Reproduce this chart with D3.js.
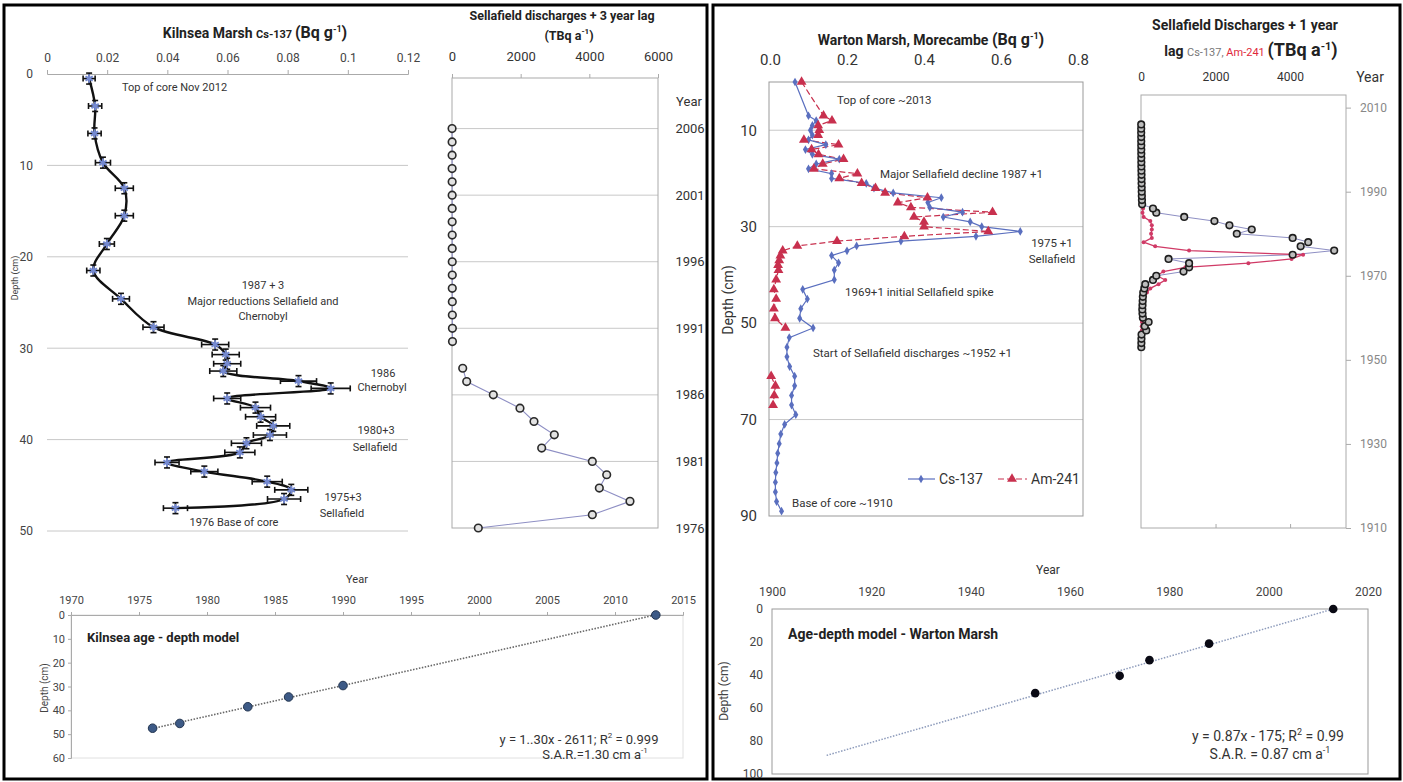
<!DOCTYPE html>
<html lang="en">
<head>
<meta charset="UTF-8">
<title>Cs-137 profiles and age-depth models</title>
<script src="https://cdn.jsdelivr.net/npm/d3@7"></script>
<style>
    body { margin: 0; background: #fff; }
    svg { font-family: Roboto, "Liberation Sans", sans-serif; }
    .grid { stroke: #c8c8c8; stroke-width: 1; }
    .ann { font-size: 11px; fill: #333; }
</style>
</head>
<body>
<div id="chart"></div>
<script>
// ---- Kilnsea Marsh Cs-137 profile (Bq g-1)
const kilnseaDepth = [0.5, 3.5, 6.5, 9.7, 12.5, 15.5, 18.6, 21.5, 24.6, 27.7, 29.6, 30.7, 31.7, 32.5, 33.6, 34.4, 35.5, 36.5, 37.5, 38.5, 39.5, 40.4, 41.4, 42.5, 43.5, 44.6, 45.5, 46.5, 47.5];
const kilnseaCs = [0.014, 0.016, 0.0158, 0.0186, 0.0257, 0.0257, 0.0199, 0.0154, 0.0246, 0.0354, 0.0559, 0.0594, 0.0599, 0.0586, 0.0836, 0.0943, 0.0599, 0.0693, 0.071, 0.0752, 0.0741, 0.0663, 0.0641, 0.0399, 0.0523, 0.0732, 0.0812, 0.0788, 0.0427];
const kilnseaErr = [0.002, 0.0022, 0.0022, 0.0025, 0.003, 0.003, 0.0025, 0.0022, 0.0028, 0.0035, 0.0045, 0.0045, 0.0045, 0.0045, 0.006, 0.0065, 0.0045, 0.005, 0.005, 0.0055, 0.0055, 0.005, 0.005, 0.004, 0.0045, 0.005, 0.0055, 0.0055, 0.004];
const kilnseaDepthErr = 0.6;
const kilnseaValueTicks = [0, 0.02, 0.04, 0.06, 0.08, 0.1, 0.12];
const kilnseaDepthTicks = [0, 10, 20, 30, 40, 50];

// ---- Sellafield discharges + 3 year lag (TBq a-1)
const lag3Years = [1976, 1977, 1978, 1979, 1980, 1981, 1982, 1983, 1984, 1985, 1986, 1987, 1988, 1989, 1990, 1991, 1992, 1993, 1994, 1995, 1996, 1997, 1998, 1999, 2000, 2001, 2002, 2003, 2004, 2005, 2006];
const lag3Cs = [766, 4087, 5184, 4291, 4506, 4087, 2612, 2980, 2388, 1980, 1203, 428, 312, null, 14, 12, 10, 9, 8, 8, 7, 6, 6, 5, 5, 4, 4, 3, 3, 3, 2];
const lag3ValueTicks = [0, 2000, 4000, 6000];
const lag3YearTicks = [1976, 1981, 1986, 1991, 1996, 2001, 2006];

// ---- Warton Marsh profile (Bq g-1)
const wartonCsDepth = [0, 7, 8, 9, 10, 11, 12, 13, 14, 15, 16, 17, 18, 19, 20, 21, 22, 23, 24, 25, 26, 27, 28, 29, 30, 31, 32, 33, 34, 35, 36, 37.5, 39, 41, 43, 45, 47, 49, 51, 53, 55, 57, 59, 61, 63, 65, 67, 69, 71, 73, 75, 77, 79, 81, 83, 85, 87, 89];
const wartonCs = [0.065, 0.10, 0.12, 0.11, 0.105, 0.11, 0.10, 0.145, 0.092, 0.11, 0.18, 0.12, 0.10, 0.16, 0.16, 0.25, 0.27, 0.32, 0.445, 0.41, 0.415, 0.50, 0.45, 0.52, 0.55, 0.65, 0.535, 0.34, 0.225, 0.20, 0.16, 0.178, 0.167, 0.167, 0.085, 0.097, 0.08, 0.077, 0.112, 0.05, 0.044, 0.044, 0.051, 0.064, 0.064, 0.056, 0.056, 0.067, 0.038, 0.028, 0.024, 0.02, 0.018, 0.015, 0.014, 0.014, 0.017, 0.03];
const wartonAmDepth = [0, 7, 8, 9, 10, 11, 12, 13, 14, 15, 16, 17, 18, 19, 20, 21, 22, 23, 24, 25, 26, 27, 28, 29, 30, 31, 32, 33, 34, 35, 36, 37, 38, 39, 41, 43, 45, 47, 49, 51, 56, 61, 63, 65, 67];
const wartonAm = [0.082, 0.139, 0.161, 0.125, 0.128, 0.125, 0.088, 0.178, 0.108, 0.126, 0.191, 0.137, 0.114, 0.227, 0.18, 0.238, 0.274, 0.299, 0.409, 0.332, 0.366, 0.578, 0.374, 0.40, 0.40, 0.567, 0.349, 0.174, 0.071, 0.033, 0.027, 0.024, 0.021, 0.022, 0.016, 0.01, 0.016, 0.01, 0.013, 0.04, null, 0.003, 0.014, 0.011, 0.008];
const wartonValueTicks = [0, 0.2, 0.4, 0.6, 0.8];
const wartonDepthTicks = [10, 30, 50, 70, 90];

// ---- Sellafield discharges + 1 year lag (TBq a-1)
const lag1Years = [1953, 1954, 1955, 1956, 1957, 1958, 1959, 1960, 1961, 1962, 1963, 1964, 1965, 1966, 1967, 1968, 1969, 1970, 1971, 1972, 1973, 1974, 1975, 1976, 1977, 1978, 1979, 1980, 1981, 1982, 1983, 1984, 1985, 1986, 1987, 1988, 1989, 1990, 1991, 1992, 1993, 1994, 1995, 1996, 1997, 1998, 1999, 2000, 2001, 2002, 2003, 2004, 2005, 2006];
const lag1Cs = [8, 10, 12, 15, 142, 100, 204, 50, 40, 35, 40, 45, 50, 60, 90, 115, 321, 410, 1141, 1290, 1290, 739, 4069, 5183, 4283, 4487, 4069, 2570, 2971, 2372, 1970, 1159, 410, 321, 30, 25, 22, 20, 18, 16, 15, 14, 12, 10, 9, 8, 8, 7, 7, 6, 6, 5, 5, 5];
const lag1Am = [10, 12, 15, 18, 20, 22, 25, 28, 30, 35, 45, 60, 90, 160, 250, 470, 650, 430, 600, 1190, 2880, 4040, 4350, 1290, 380, 70, 290, 270, 290, 290, 250, 70, 40, 55, 60, 65, 70, 60, 55, 60, 50, 45, 50, 40, 35, 30, 30, 25, 25, 20, null, null, null, null];
const lag1ValueTicks = [0, 2000, 4000];
const lag1YearTicks = [1910, 1930, 1950, 1970, 1990, 2010];

// ---- age-depth models
const kilnseaAgeYear = [1976, 1978, 1983, 1986, 1990, 2013];
const kilnseaAgeDepth = [47.5, 45.5, 38.5, 34.4, 29.6, 0];
const kilnseaYearTicks = [1970, 1975, 1980, 1985, 1990, 1995, 2000, 2005, 2010, 2015];
const kilnseaAgeDepthTicks = [0, 10, 20, 30, 40, 50, 60];
const wartonAgeYear = [1953, 1970, 1976, 1988, 2013];
const wartonAgeDepth = [51, 40.5, 31, 21, 0];
const wartonTrendFrom = 1911;
const wartonYearTicks = [1900, 1920, 1940, 1960, 1980, 2000, 2020];
const wartonAgeDepthTicks = [0, 20, 40, 60, 80, 100];

const svg = d3.select("#chart").append("svg")
    .attr("width", 1403)
    .attr("height", 782);

// outer frames
svg.append("rect").attr("x", 4).attr("y", 5).attr("width", 703).attr("height", 774)
    .attr("fill", "none").attr("stroke", "#000").attr("stroke-width", 3);
svg.append("rect").attr("x", 713).attr("y", 5).attr("width", 687).attr("height", 774)
    .attr("fill", "none").attr("stroke", "#000").attr("stroke-width", 3);

function styleAxis(g, size, color, keepDomain) {
    g.attr("font-family", null).attr("font-size", size);
    g.selectAll("text").attr("fill", color);
    g.selectAll("line").attr("stroke", "#aaa");
    if (keepDomain) g.select(".domain").attr("stroke", "#aaa");
    else g.select(".domain").remove();
}

// text with mixed sizes and superscripts, y is baseline
function rich(x, y, parts, anchor) {
    const t = svg.append("text").attr("x", x).attr("y", y).attr("text-anchor", anchor || "middle");
    let shift = 0;
    parts.forEach(p => {
        const ts = t.append("tspan").text(p.t)
            .attr("font-size", p.size)
            .attr("font-weight", p.bold ? "bold" : "normal")
            .attr("fill", p.fill || "#222");
        const want = p.sup ? -6 : 0;
        if (want !== shift) { ts.attr("dy", want - shift); shift = want; }
    });
    return t;
}

function note(x, y, s, anchor, size) {
    svg.append("text").attr("class", "ann").attr("x", x).attr("y", y).attr("dy", "0.35em")
        .attr("text-anchor", anchor || "middle")
        .style("font-size", (size || 11) + "px")
        .text(s);
}

function rotLabel(x, y, s, size) {
    svg.append("text").attr("transform", "translate(" + x + "," + y + ") rotate(-90)")
        .attr("text-anchor", "middle").attr("dy", "0.35em")
        .attr("font-size", size).attr("fill", "#444").text(s);
}

// ================= Kilnsea Cs-137 profile =================
const kx = d3.scaleLinear().domain([0, 0.12]).range([47, 408]);
const ky = d3.scaleLinear().domain([0, 50]).range([74, 531]);

svg.append("g").selectAll("line").data(kilnseaDepthTicks.slice(1)).join("line")
    .attr("class", "grid")
    .attr("x1", kx(0)).attr("x2", kx(0.12))
    .attr("y1", d => ky(d)).attr("y2", d => ky(d));

svg.append("g").attr("transform", "translate(0," + ky(0) + ")")
    .call(d3.axisTop(kx).tickValues(kilnseaValueTicks).tickSize(4).tickPadding(8).tickFormat(d3.format("~g")))
    .call(g => styleAxis(g, 12, "#444", true));
svg.append("g").attr("transform", "translate(" + kx(0) + ",0)")
    .call(d3.axisLeft(ky).tickValues(kilnseaDepthTicks).tickSize(0).tickPadding(14))
    .call(g => styleAxis(g, 12, "#444", false));

rotLabel(15, 278, "Depth (cm)", 9);
rich(255, 38, [
    { t: "Kilnsea Marsh ", size: 14, bold: true },
    { t: "Cs-137 ", size: 11, bold: true },
    { t: "(Bq g", size: 16, bold: true },
    { t: "-1", size: 9, bold: true, sup: true },
    { t: ")", size: 16, bold: true }
]);

const kPts = d3.zip(kilnseaDepth, kilnseaCs, kilnseaErr);
svg.append("path").datum(kPts)
    .attr("fill", "none").attr("stroke", "#111").attr("stroke-width", 2.4)
    .attr("d", d3.line().x(d => kx(d[1])).y(d => ky(d[0])).curve(d3.curveCatmullRom.alpha(0.5)));

const eb = svg.append("g").attr("stroke", "#111").attr("stroke-width", 1.6);
kPts.forEach(d => {
    const x0 = kx(d[1] - d[2]), x1 = kx(d[1] + d[2]), y = ky(d[0]);
    const y0 = ky(d[0] - kilnseaDepthErr), y1 = ky(d[0] + kilnseaDepthErr), x = kx(d[1]);
    eb.append("line").attr("x1", x0).attr("x2", x1).attr("y1", y).attr("y2", y);
    eb.append("line").attr("x1", x0).attr("x2", x0).attr("y1", y - 3).attr("y2", y + 3);
    eb.append("line").attr("x1", x1).attr("x2", x1).attr("y1", y - 3).attr("y2", y + 3);
    eb.append("line").attr("x1", x).attr("x2", x).attr("y1", y0).attr("y2", y1);
    eb.append("line").attr("x1", x - 3).attr("x2", x + 3).attr("y1", y0).attr("y2", y0);
    eb.append("line").attr("x1", x - 3).attr("x2", x + 3).attr("y1", y1).attr("y2", y1);
});
svg.append("g").selectAll("path").data(kPts).join("path")
    .attr("transform", d => "translate(" + kx(d[1]) + "," + ky(d[0]) + ")")
    .attr("d", d3.symbol(d3.symbolAsterisk, 50))
    .attr("fill", "none").attr("stroke", "#7489d0").attr("stroke-width", 2);

note(122, 87, "Top of core Nov 2012", "start");
note(263, 285, "1987 + 3");
note(263, 301, "Major reductions  Sellafield and");
note(263, 316, "Chernobyl");
note(383, 373, "1986");
note(382, 387, "Chernobyl");
note(376, 430, "1980+3");
note(375, 447, "Sellafield");
note(343, 497, "1975+3");
note(342, 513, "Sellafield");
note(234, 522, "1976 Base of core");

// ================= Sellafield + 3 year lag =================
const sx = d3.scaleLinear().domain([0, 6000]).range([452, 658]);
const sy = d3.scaleLinear().domain([1976, 2009.8]).range([528, 78]);

svg.append("g").selectAll("line").data(lag3YearTicks.slice(1)).join("line")
    .attr("class", "grid")
    .attr("x1", sx(0)).attr("x2", sx(6000))
    .attr("y1", d => sy(d)).attr("y2", d => sy(d));
svg.append("rect").attr("x", sx(0)).attr("y", sy.range()[1])
    .attr("width", sx(6000) - sx(0)).attr("height", sy.range()[0] - sy.range()[1])
    .attr("fill", "none").attr("stroke", "#aaa");
svg.append("g").attr("transform", "translate(0," + sy.range()[1] + ")")
    .call(d3.axisTop(sx).tickValues(lag3ValueTicks).tickSize(4).tickPadding(13).tickFormat(d3.format("d")))
    .call(g => styleAxis(g, 13, "#333", false));
svg.append("g").selectAll("text").data(lag3YearTicks).join("text")
    .attr("x", 690).attr("y", d => sy(d)).attr("dy", "0.35em")
    .attr("text-anchor", "middle").attr("font-size", 13).attr("fill", "#333")
    .text(d => d);
svg.append("text").attr("x", 689).attr("y", 101).attr("dy", "0.35em").attr("text-anchor", "middle")
    .attr("font-size", 13).attr("fill", "#333").text("Year");

rich(562, 20, [{ t: "Sellafield discharges + 3 year lag", size: 12.5, bold: true }]);
rich(569, 40, [
    { t: "(TBq a", size: 12.5, bold: true },
    { t: "-1", size: 8, bold: true, sup: true },
    { t: ")", size: 12.5, bold: true }
]);

const s3 = d3.zip(lag3Years, lag3Cs);
svg.append("path").datum(s3)
    .attr("fill", "none").attr("stroke", "#8e8fc4").attr("stroke-width", 1.1)
    .attr("d", d3.line().defined(d => d[1] !== null).x(d => sx(d[1])).y(d => sy(d[0])));
svg.append("g").selectAll("circle").data(s3.filter(d => d[1] !== null)).join("circle")
    .attr("cx", d => sx(d[1])).attr("cy", d => sy(d[0])).attr("r", 3.8)
    .attr("fill", "#e2e2e2").attr("stroke", "#2a2a2a").attr("stroke-width", 1.6);

// ================= Warton Marsh profile =================
const wx = d3.scaleLinear().domain([0, 0.8]).range([770, 1078]);
const wy = d3.scaleLinear().domain([0, 90]).range([82, 516]);

svg.append("g").selectAll("line").data(wartonDepthTicks.slice(0, -1)).join("line")
    .attr("class", "grid")
    .attr("x1", 769).attr("x2", 1083)
    .attr("y1", d => wy(d)).attr("y2", d => wy(d));
svg.append("rect").attr("x", 769).attr("y", wy(0)).attr("width", 1083 - 769).attr("height", wy(90) - wy(0))
    .attr("fill", "none").attr("stroke", "#999");
svg.append("g").attr("transform", "translate(0," + wy(0) + ")")
    .call(d3.axisTop(wx).tickValues(wartonValueTicks).tickSize(0).tickPadding(17).tickFormat(d3.format(".1f")))
    .call(g => styleAxis(g, 15, "#333", false));
svg.append("g").attr("transform", "translate(769,0)")
    .call(d3.axisLeft(wy).tickValues(wartonDepthTicks).tickSize(0).tickPadding(12))
    .call(g => styleAxis(g, 15, "#333", false));
svg.append("text").attr("transform", "translate(728,300) rotate(-90)")
    .attr("text-anchor", "middle").attr("dy", "0.35em")
    .attr("font-size", 14).attr("fill", "#333").text("Depth (cm)");

rich(931, 45, [
    { t: "Warton  Marsh, Morecambe ", size: 14, bold: true },
    { t: "(Bq g", size: 16, bold: true },
    { t: "-1", size: 9, bold: true, sup: true },
    { t: ")", size: 16, bold: true }
]);

const csColor = "#5a6fbf", amColor = "#c8304e";
const wCs = d3.zip(wartonCsDepth, wartonCs);
const wAm = d3.zip(wartonAmDepth, wartonAm);
svg.append("path").datum(wAm)
    .attr("fill", "none").attr("stroke", amColor).attr("stroke-width", 1.2).attr("stroke-dasharray", "6,3")
    .attr("d", d3.line().defined(d => d[1] !== null).x(d => wx(d[1])).y(d => wy(d[0])));
svg.append("path").datum(wCs)
    .attr("fill", "none").attr("stroke", csColor).attr("stroke-width", 1.2)
    .attr("d", d3.line().x(d => wx(d[1])).y(d => wy(d[0])));
svg.append("g").selectAll("path").data(wCs).join("path")
    .attr("transform", d => "translate(" + wx(d[1]) + "," + wy(d[0]) + ")")
    .attr("d", d3.symbol(d3.symbolDiamond, 22)).attr("fill", csColor);
svg.append("g").selectAll("path").data(wAm.filter(d => d[1] !== null)).join("path")
    .attr("transform", d => "translate(" + wx(d[1]) + "," + wy(d[0]) + ")")
    .attr("d", d3.symbol(d3.symbolTriangle, 42)).attr("fill", amColor);

// legend
const lg = svg.append("g").attr("transform", "translate(0,479)");
lg.append("line").attr("x1", 908).attr("x2", 935).attr("stroke", csColor).attr("stroke-width", 1.2);
lg.append("path").attr("transform", "translate(921,0)").attr("d", d3.symbol(d3.symbolDiamond, 22)).attr("fill", csColor);
lg.append("text").attr("x", 939).attr("dy", "0.35em").attr("font-size", 14).attr("fill", "#333").text("Cs-137");
lg.append("line").attr("x1", 998).attr("x2", 1027).attr("stroke", amColor).attr("stroke-width", 1.2).attr("stroke-dasharray", "6,3");
lg.append("path").attr("transform", "translate(1012,0)").attr("d", d3.symbol(d3.symbolTriangle, 42)).attr("fill", amColor);
lg.append("text").attr("x", 1031).attr("dy", "0.35em").attr("font-size", 14).attr("fill", "#333").text("Am-241");

note(837, 100, "Top of core ~2013", "start", 11.5);
note(880, 174, "Major Sellafield decline  1987 +1", "start", 11.5);
note(1052, 243, "1975 +1", "middle", 11.5);
note(1052, 259, "Sellafield", "middle", 11.5);
note(845, 292, "1969+1   initial Sellafield spike", "start", 11.5);
note(813, 353, "Start of Sellafield discharges ~1952 +1", "start", 11.5);
note(792, 503, "Base of core ~1910", "start", 11.5);

// ================= Sellafield + 1 year lag =================
const rx = d3.scaleLinear().domain([0, 5500]).range([1141, 1346]);
const ry = d3.scaleLinear().domain([1910, 2013]).range([528, 95]);

svg.append("rect").attr("x", rx(0)).attr("y", ry(2013)).attr("width", rx(5500) - rx(0)).attr("height", ry(1910) - ry(2013))
    .attr("fill", "none").attr("stroke", "#aaa");
svg.append("g").attr("transform", "translate(0," + ry(2013) + ")")
    .call(d3.axisTop(rx).tickValues(lag1ValueTicks).tickSize(0).tickPadding(14).tickFormat(d3.format("d")))
    .call(g => styleAxis(g, 12, "#333", false));
svg.append("g").attr("transform", "translate(0," + ry(1910) + ")")
    .call(d3.axisTop(rx).tickValues(lag1ValueTicks.slice(1)).tickSize(4).tickFormat(""))
    .call(g => styleAxis(g, 12, "#333", false));
svg.append("g").attr("transform", "translate(" + rx(5500) + ",0)")
    .call(d3.axisRight(ry).tickValues(lag1YearTicks).tickSize(5).tickPadding(9).tickFormat(d3.format("d")))
    .call(g => styleAxis(g, 12, "#888", false));
svg.append("text").attr("x", 1370).attr("y", 77).attr("dy", "0.35em").attr("text-anchor", "middle")
    .attr("font-size", 14).attr("fill", "#333").text("Year");

rich(1245, 30, [{ t: "Sellafield Discharges + 1 year", size: 14, bold: true }]);
rich(1251, 56, [
    { t: "lag ", size: 14, bold: true },
    { t: "Cs-137, ", size: 11, fill: "#777" },
    { t: "Am-241 ", size: 11, fill: "#e0283c" },
    { t: "(TBq a", size: 18, bold: true },
    { t: "-1", size: 11, bold: true, sup: true },
    { t: ")", size: 18, bold: true }
]);

const r1cs = d3.zip(lag1Years, lag1Cs);
const r1am = d3.zip(lag1Years, lag1Am);
svg.append("path").datum(r1cs)
    .attr("fill", "none").attr("stroke", "#8e8fc4").attr("stroke-width", 1)
    .attr("d", d3.line().x(d => rx(d[1])).y(d => ry(d[0])));
svg.append("path").datum(r1am)
    .attr("fill", "none").attr("stroke", "#d03a66").attr("stroke-width", 1.3)
    .attr("d", d3.line().defined(d => d[1] !== null).x(d => rx(d[1])).y(d => ry(d[0])));
svg.append("g").selectAll("circle").data(r1am.filter(d => d[1] !== null)).join("circle")
    .attr("cx", d => rx(d[1])).attr("cy", d => ry(d[0])).attr("r", 2)
    .attr("fill", "#d03a66");
svg.append("g").selectAll("circle").data(r1cs).join("circle")
    .attr("cx", d => rx(d[1])).attr("cy", d => ry(d[0])).attr("r", 3.3)
    .attr("fill", "#bdbdbd").attr("stroke", "#1e1e1e").attr("stroke-width", 1.6);

// ================= Kilnsea age-depth model =================
const ax1 = d3.scaleLinear().domain([1970, 2015]).range([71, 683]);
const ay1 = d3.scaleLinear().domain([0, 60]).range([615, 758]);

svg.append("rect").attr("x", ax1(1970)).attr("y", ay1(0)).attr("width", ax1(2015) - ax1(1970)).attr("height", ay1(60) - ay1(0))
    .attr("fill", "none").attr("stroke", "#e0e0e0");
svg.append("g").attr("transform", "translate(0," + ay1(0) + ")")
    .call(d3.axisTop(ax1).tickValues(kilnseaYearTicks).tickSize(3).tickPadding(8).tickFormat(d3.format("d")))
    .call(g => styleAxis(g, 11, "#444", true));
svg.append("g").attr("transform", "translate(" + ax1(1970) + ",0)")
    .call(d3.axisLeft(ay1).tickValues(kilnseaAgeDepthTicks).tickSize(3).tickPadding(3))
    .call(g => styleAxis(g, 11, "#444", true));
svg.append("text").attr("x", 357).attr("y", 579).attr("dy", "0.35em").attr("text-anchor", "middle")
    .attr("font-size", 11).attr("fill", "#333").text("Year");
rotLabel(44, 688, "Depth  (cm)", 10);

// least-squares line through the dated horizons
function fit(pts) {
    const mx = d3.mean(pts, d => d[0]), my = d3.mean(pts, d => d[1]);
    const b = d3.sum(pts, d => (d[0] - mx) * (d[1] - my)) / d3.sum(pts, d => (d[0] - mx) ** 2);
    return x => my + b * (x - mx);
}
const kAge = d3.zip(kilnseaAgeYear, kilnseaAgeDepth);
const kLine = fit(kAge);
const kExt = d3.extent(kilnseaAgeYear);
svg.append("line")
    .attr("x1", ax1(kExt[0])).attr("y1", ay1(kLine(kExt[0])))
    .attr("x2", ax1(kExt[1])).attr("y2", ay1(kLine(kExt[1])))
    .attr("stroke", "#666").attr("stroke-width", 1.6).attr("stroke-dasharray", "1.5,1.5");
svg.append("g").selectAll("circle").data(kAge).join("circle")
    .attr("cx", d => ax1(d[0])).attr("cy", d => ay1(d[1])).attr("r", 4.3)
    .attr("fill", "#3d5a86").attr("stroke", "#22344f").attr("stroke-width", 1);

rich(87, 642, [{ t: "Kilnsea age - depth model", size: 13, bold: true }], "start");
rich(579, 744, [
    { t: "y = 1..30x - 2611;  R", size: 13, fill: "#333" },
    { t: "2", size: 8, fill: "#333", sup: true },
    { t: " = 0.999", size: 13, fill: "#333" }
]);
rich(595, 759, [
    { t: "S.A.R.=1.30 cm a", size: 13, fill: "#333" },
    { t: "-1", size: 8, fill: "#333", sup: true }
]);

// ================= Warton age-depth model =================
const ax2 = d3.scaleLinear().domain([1900, 2020]).range([772, 1368]);
const ay2 = d3.scaleLinear().domain([0, 100]).range([609, 774]);

svg.append("rect").attr("x", ax2(1900)).attr("y", ay2(0)).attr("width", ax2(2020) - ax2(1900)).attr("height", ay2(100) - ay2(0))
    .attr("fill", "none").attr("stroke", "#999");
svg.append("g").attr("transform", "translate(0," + ay2(0) + ")")
    .call(d3.axisTop(ax2).tickValues(wartonYearTicks).tickSize(0).tickPadding(13).tickFormat(d3.format("d")))
    .call(g => styleAxis(g, 12, "#444", false));
svg.append("g").attr("transform", "translate(" + ax2(1900) + ",0)")
    .call(d3.axisLeft(ay2).tickValues(wartonAgeDepthTicks).tickSize(0).tickPadding(9))
    .call(g => styleAxis(g, 12, "#444", false));
svg.append("text").attr("x", 1048).attr("y", 570).attr("dy", "0.35em").attr("text-anchor", "middle")
    .attr("font-size", 12).attr("fill", "#333").text("Year");
rotLabel(724, 691, "Depth  (cm)", 12);

const wAge = d3.zip(wartonAgeYear, wartonAgeDepth);
const wLine = fit(wAge);
const wEnd = d3.max(wartonAgeYear);
svg.append("line")
    .attr("x1", ax2(wartonTrendFrom)).attr("y1", ay2(wLine(wartonTrendFrom)))
    .attr("x2", ax2(wEnd)).attr("y2", ay2(wLine(wEnd)))
    .attr("stroke", "#8d9bbb").attr("stroke-width", 1.5).attr("stroke-dasharray", "1.5,1.5");
svg.append("g").selectAll("circle").data(wAge).join("circle")
    .attr("cx", d => ax2(d[0])).attr("cy", d => ay2(d[1])).attr("r", 4.3)
    .attr("fill", "#0a0a14");

rich(788, 639, [{ t: "Age-depth model -  Warton Marsh", size: 14, bold: true }], "start");
rich(1268, 741, [
    { t: "y = 0.87x - 175;  R", size: 14, fill: "#333" },
    { t: "2", size: 9, fill: "#333", sup: true },
    { t: " = 0.99", size: 14, fill: "#333" }
]);
rich(1270, 759, [
    { t: "S.A.R. = 0.87 cm a", size: 14, fill: "#333" },
    { t: "-1", size: 9, fill: "#333", sup: true }
]);
</script>
</body>
</html>
